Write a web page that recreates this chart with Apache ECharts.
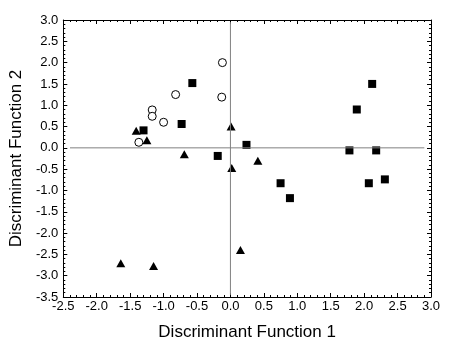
<!DOCTYPE html>
<html><head><meta charset="utf-8">
<script src="https://cdn.jsdelivr.net/npm/echarts@6/dist/echarts.min.js"></script>
<style>html,body{margin:0;padding:0;background:#fff}#c{width:451px;height:350px}</style>
</head><body><div id="c"></div>
<script>
var circles = [[-0.12,2.0],[-0.13,1.19],[-0.82,1.25],[-1.17,0.89],[-1.17,0.74],[-1.0,0.6],[-1.37,0.13]];
var squares = [[-0.57,1.52],[-0.73,0.56],[-1.30,0.41],[0.24,0.07],[-0.19,-0.19],[2.12,1.50],[1.89,0.90],[1.78,-0.06],[2.18,-0.06],[2.07,-0.83],[2.31,-0.74],[0.75,-0.83],[0.89,-1.18]];
var triangles = [[-1.41,0.40],[-1.25,0.18],[0.01,0.50],[-0.69,-0.15],[0.02,-0.47],[0.41,-0.30],[0.15,-2.40],[-1.64,-2.71],[-1.15,-2.77]];
var hZeroLine = [[-2.4,0],[2.9,0]];
var vZeroLine = [[0,-3.45],[0,2.95]];
var xTitle = 'Discriminant Function 1';
var yTitle = 'Discriminant Function 2';

var font = 'Liberation Sans, Arial, sans-serif';
var chart = echarts.init(document.getElementById('c'), null, {renderer:'canvas'});
function axisCommon(show){
  return {
    axisLine:{show:true, onZero:false, lineStyle:{color:'#000', width:1}},
    axisTick:{show:true, inside:true, length:4, lineStyle:{color:'#000'}},
    minorTick:{show:true, splitNumber:5, length:2, lineStyle:{color:'#000'}},
    splitLine:{show:false},
    axisLabel:{show:show, color:'#000', fontFamily:font, fontSize:13,
      formatter:function(v){return v.toFixed(1);}}
  };
}
var xb = Object.assign({type:'value', position:'bottom', min:-2.5, max:3.0, interval:0.5,
  name:xTitle, nameLocation:'middle', nameGap:27,
  nameTextStyle:{fontFamily:font, fontSize:17, color:'#000'}}, axisCommon(true));
xb.axisLabel.margin = 3;
var xt = Object.assign({type:'value', position:'top', min:-2.5, max:3.0, interval:0.5}, axisCommon(false));
var yl = Object.assign({type:'value', position:'left', min:-3.5, max:3.0, interval:0.5,
  name:yTitle, nameLocation:'middle', nameGap:36,
  nameTextStyle:{fontFamily:font, fontSize:17, color:'#000'}}, axisCommon(true));
yl.axisLabel.margin = 5;
var yr = Object.assign({type:'value', position:'right', min:-3.5, max:3.0, interval:0.5}, axisCommon(false));

chart.setOption({
  animation:false,
  backgroundColor:'#fff',
  grid:{left:60, top:20, right:20, bottom:53},
  xAxis:[xb, xt],
  yAxis:[yl, yr],
  series:[
    {type:'line', data:hZeroLine, symbol:'none', lineStyle:{color:'#808080', width:1}, silent:true},
    {type:'line', data:vZeroLine, symbol:'none', lineStyle:{color:'#808080', width:1}, silent:true},
    {type:'scatter', data:squares, symbol:'rect', symbolSize:8, itemStyle:{color:'#000', opacity:1}},
    {type:'scatter', data:triangles, symbol:'triangle', symbolSize:[9,8], itemStyle:{color:'#000', opacity:1}},
    {type:'scatter', data:circles, symbol:'circle', symbolSize:8, itemStyle:{color:'#fff', borderColor:'#000', borderWidth:1, opacity:1}}
  ]
});
</script></body></html>
